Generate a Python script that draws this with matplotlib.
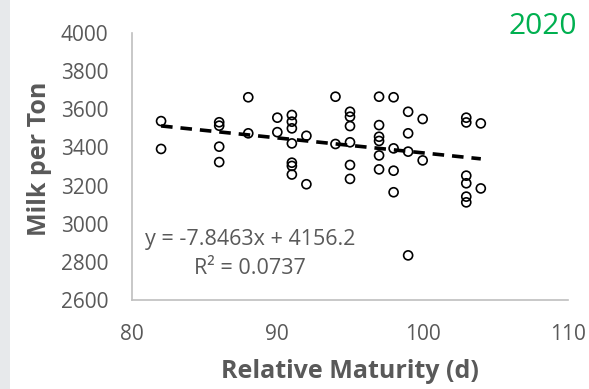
import matplotlib
matplotlib.use("Agg")
import matplotlib.pyplot as plt
from matplotlib.patches import Rectangle

# relative maturity (d) and milk per ton
rm = [82, 82,
      86, 86, 86, 86,
      88, 88,
      90, 90,
      91, 91, 91, 91, 91, 91, 91,
      92, 92,
      94, 94,
      95, 95, 95, 95, 95, 95,
      97, 97, 97, 97, 97, 97,
      98, 98, 98, 98,
      99, 99, 99, 99,
      100, 100,
      103, 103, 103, 103, 103, 103,
      104, 104]
milk = [3538, 3392,
        3532, 3514, 3404, 3323,
        3663, 3474,
        3556, 3480,
        3570, 3535, 3500, 3421, 3320, 3303, 3258,
        3461, 3207,
        3666, 3418,
        3587, 3561, 3512, 3427, 3308, 3235,
        3666, 3517, 3456, 3434, 3358, 3285,
        3663, 3395, 3278, 3165,
        3587, 3474, 3378, 2834,
        3549, 3332,
        3556, 3531, 3252, 3212, 3142, 3112,
        3526, 3185]

# linear trendline as printed on the chart
slope = -7.8463
intercept = 4156.2
r2 = 0.0737

xticks = [80, 90, 100, 110]
yticks = [2600, 2800, 3000, 3200, 3400, 3600, 3800, 4000]

GRAY = "#595959"
plt.rcParams["font.family"] = ["Open Sans", "DejaVu Sans"]

fig = plt.figure(figsize=(5.89, 3.89), dpi=100)
fig.patches.append(Rectangle((0, 0), 10 / 589, 1, transform=fig.transFigure,
                             facecolor="#e7e9eb", edgecolor="none", zorder=0))
ax = fig.add_axes([132 / 589, 1 - 300 / 389, 436 / 589, 267 / 389])

ax.scatter(rm, milk, s=42, facecolors="none", edgecolors="black",
           linewidths=1.2, zorder=3)

x0, x1 = min(rm), max(rm)
ax.plot([x0, x1], [slope * x0 + intercept, slope * x1 + intercept],
        color="black", lw=2.6, dashes=(3.2, 2.2), zorder=4)

ax.set_xlim(80, 110)
ax.set_ylim(2600, 4000)
ax.set_xticks(xticks)
ax.set_yticks(yticks)
ax.tick_params(length=0, labelsize=15, labelcolor=GRAY)
ax.tick_params(axis="y", pad=17)
ax.tick_params(axis="x", pad=17)

for s in ["top", "right"]:
    ax.spines[s].set_visible(False)
for s in ["left", "bottom"]:
    ax.spines[s].set_color("#bfbfbf")
    ax.spines[s].set_linewidth(1.2)

ax.set_xlabel("Relative Maturity (d)", fontsize=18, fontweight="bold", color=GRAY)
ax.xaxis.set_label_coords(0.5, -0.266)
ax.xaxis.label.set_va("center")
ax.set_ylabel("Milk per Ton", fontsize=18, fontweight="bold", color=GRAY)
ax.yaxis.set_label_coords(-0.212, 0.53)
ax.yaxis.label.set_va("center")

ax.text(0.27, 0.228, f"y = {slope}x + {intercept}", transform=ax.transAxes,
        ha="center", va="center", fontsize=15.5, color=GRAY)
ax.text(0.27, 0.118, f"R² = {r2}", transform=ax.transAxes,
        ha="center", va="center", fontsize=15.5, color=GRAY)

fig.text(543 / 589, 1 - 27 / 389, "2020", ha="center", va="center",
         fontsize=21.5, color="#00b050")

fig.savefig("out.png", dpi=100)
